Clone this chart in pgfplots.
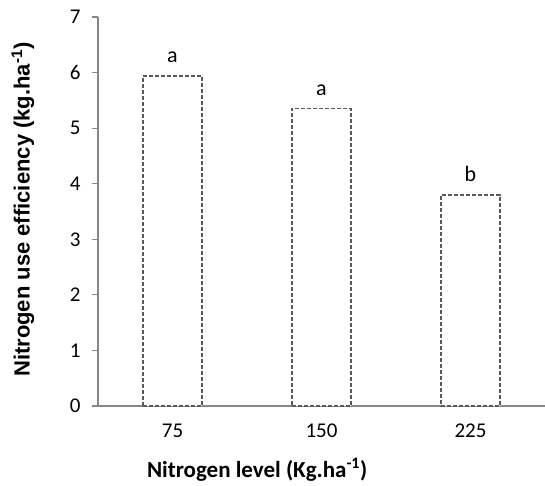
\documentclass[border=0pt]{standalone}
\usepackage{pgfplots}
\pgfplotsset{compat=1.18}
\usepackage{fontspec}
\setmainfont{Carlito}
\newfontfamily\arialfont{Liberation Sans}
\definecolor{axgray}{HTML}{868686}
\definecolor{bargray}{HTML}{5A5A5A}
\begin{document}
\begin{tikzpicture}[x=1pt,y=1pt]
\useasboundingbox (-98,-79) rectangle (447,406);
\begin{axis}[
  at={(0,0)}, anchor=south west,
  scale only axis, width=447pt, height=389pt,
  xmin=-0.5, xmax=2.5, ymin=0, ymax=7,
  axis x line*=bottom, axis y line*=left,
  axis line style={axgray, line width=1.2pt, -},
  xtick={0,1,2}, xticklabels={75,150,225},
  major x tick style={draw=none},
  extra x ticks={-0.5,0.5,1.5},
  extra x tick labels={},
  extra x tick style={major tick length=7pt, tick style={axgray, line width=1.2pt}, tick align=outside},
  ytick={0,...,7},
  tick align=outside,
  major tick length=6pt,
  tick style={axgray, line width=1.2pt},
  ticklabel style={font=\fontsize{21}{25}\selectfont, text=black},
  yticklabel style={xshift=-8pt},
  xticklabel style={yshift=-8pt},
  /pgf/number format/assume math mode=true,
  xlabel={\textbf{Nitrogen level (Kg.ha\textsuperscript{-1})}},
  ylabel={\textbf{Nitrogen use efficiency (kg.ha\textsuperscript{-1})}},
  xlabel style={font=\fontsize{23}{27}\selectfont, at={(axis description cs:0.356,-0.165)}, anchor=center},
  ylabel style={font=\arialfont\fontsize{22}{26}\selectfont, at={(axis description cs:-0.168,0.505)}, anchor=center},
  ybar, bar width=59pt,
  clip=false,
  nodes near coords,
  point meta=explicit symbolic,
  every node near coord/.append style={font=\fontsize{22}{26}\selectfont, anchor=south, yshift=9pt},
]
\addplot[draw=bargray, fill=white, line width=1.5pt, dash pattern=on 4pt off 2pt]
  coordinates {(0,5.94) [a] (1,5.35) [a] (2,3.80) [b]};
\end{axis}
\end{tikzpicture}
\end{document}
